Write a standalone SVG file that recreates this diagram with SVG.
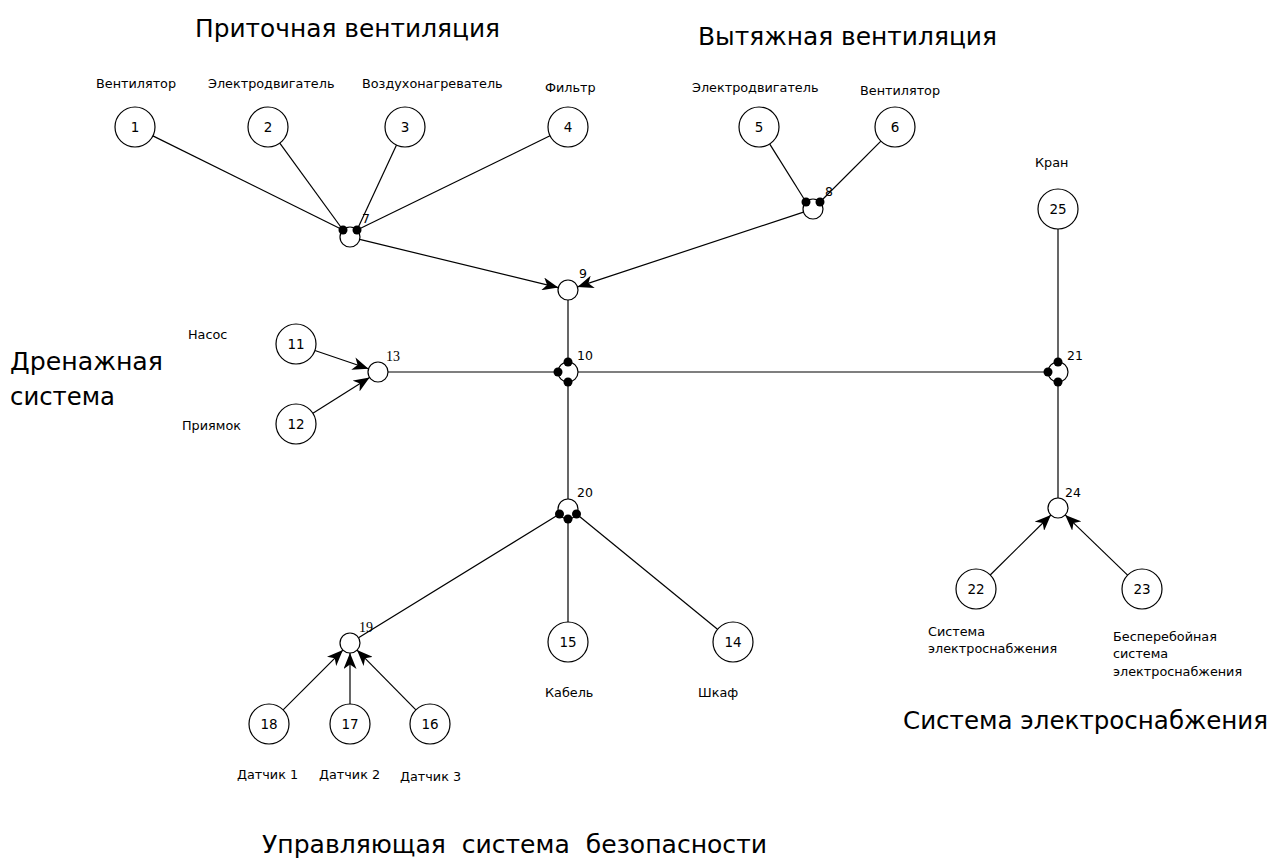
<svg xmlns="http://www.w3.org/2000/svg" width="1279" height="861" viewBox="0 0 1279 861">
<style>
.bg{fill:#fff}
.node circle{fill:#fff;stroke:#000;stroke-width:1.2}
.num{font-family:"DejaVu Sans",Verdana,sans-serif;font-size:13.5px;text-anchor:middle;fill:#000}
.lbl{font-family:"DejaVu Sans",Verdana,sans-serif;font-size:12.8px;fill:#000}
.tag{font-family:"DejaVu Sans",Verdana,sans-serif;font-size:12.5px;fill:#000}
.tags{font-family:"Liberation Serif",serif;font-size:14px;fill:#000}
.title{font-family:"DejaVu Sans",Verdana,sans-serif;font-size:24px;fill:#000}
.conn line{stroke:#000;stroke-width:1.2}
.dot{fill:#000}
</style>
<defs>
<marker id="arr" markerUnits="userSpaceOnUse" markerWidth="16" markerHeight="13" viewBox="0 0 16 13" refX="16" refY="6.5" orient="auto">
<path d="M0,0 L16,6.5 L0,13 L4.5,6.5 z" fill="#000"/>
</marker>
</defs>
<rect class="bg" x="0" y="0" width="1279" height="861"/>

<g id="connectors" class="conn">
<line x1="152.9" y1="135.9" x2="343" y2="230"/>
<line x1="279.8" y1="143.2" x2="343" y2="230"/>
<line x1="396.5" y1="145.1" x2="357" y2="230"/>
<line x1="550" y1="135.8" x2="357" y2="230"/>
<line x1="769.6" y1="143.9" x2="806" y2="202"/>
<line x1="880.9" y1="141.1" x2="820" y2="202"/>
<line x1="359.7" y1="239.4" x2="558.3" y2="287.6" marker-end="url(#arr)"/>
<line x1="803.5" y1="212.1" x2="577.5" y2="286.9" marker-end="url(#arr)"/>
<line x1="568" y1="300" x2="568" y2="362"/>
<line x1="388" y1="372" x2="558" y2="372"/>
<line x1="578" y1="372" x2="1048" y2="372"/>
<line x1="1058" y1="229" x2="1058" y2="362"/>
<line x1="1058" y1="382" x2="1058" y2="498"/>
<line x1="568" y1="382" x2="568" y2="499"/>
<line x1="314.9" y1="350.5" x2="368.5" y2="368.8" marker-end="url(#arr)"/>
<line x1="312.9" y1="413.3" x2="369.6" y2="377.4" marker-end="url(#arr)"/>
<line x1="559.5" y1="514" x2="358.5" y2="637.8"/>
<line x1="568" y1="519" x2="568" y2="622"/>
<line x1="576.5" y1="514" x2="717.5" y2="629.3"/>
<line x1="990.2" y1="575" x2="1050.9" y2="515" marker-end="url(#arr)"/>
<line x1="1127.6" y1="575.1" x2="1065.2" y2="514.9" marker-end="url(#arr)"/>
<line x1="283.1" y1="709.9" x2="342.9" y2="650.1" marker-end="url(#arr)"/>
<line x1="350" y1="704" x2="350" y2="653" marker-end="url(#arr)"/>
<line x1="415.9" y1="709.8" x2="357" y2="650.1" marker-end="url(#arr)"/>
</g>

<g id="n1" class="node"><circle cx="135" cy="127" r="20"/><text class="num" x="135" y="132">1</text><text class="lbl" x="96" y="88">Вентилятор</text></g>
<g id="n2" class="node"><circle cx="268" cy="127" r="20"/><text class="num" x="268" y="132">2</text><text class="lbl" x="208" y="88">Электродвигатель</text></g>
<g id="n3" class="node"><circle cx="405" cy="127" r="20"/><text class="num" x="405" y="132">3</text><text class="lbl" x="362" y="88">Воздухонагреватель</text></g>
<g id="n4" class="node"><circle cx="568" cy="127" r="20"/><text class="num" x="568" y="132">4</text><text class="lbl" x="545" y="92">Фильтр</text></g>
<g id="n5" class="node"><circle cx="759" cy="127" r="20"/><text class="num" x="759" y="132">5</text><text class="lbl" x="692" y="92">Электродвигатель</text></g>
<g id="n6" class="node"><circle cx="895" cy="127" r="20"/><text class="num" x="895" y="132">6</text><text class="lbl" x="860" y="95">Вентилятор</text></g>
<g id="n25" class="node"><circle cx="1058" cy="209" r="20"/><text class="num" x="1058" y="214">25</text><text class="lbl" x="1035" y="167">Кран</text></g>
<g id="n11" class="node"><circle cx="296" cy="344" r="20"/><text class="num" x="296" y="349">11</text><text class="lbl" x="188" y="339">Насос</text></g>
<g id="n12" class="node"><circle cx="296" cy="424" r="20"/><text class="num" x="296" y="429">12</text><text class="lbl" x="182" y="430">Приямок</text></g>
<g id="n22" class="node"><circle cx="976" cy="589" r="20"/><text class="num" x="976" y="594">22</text><text class="lbl" x="928" y="636">Система</text><text class="lbl" x="928" y="653">электроснабжения</text></g>
<g id="n23" class="node"><circle cx="1142" cy="589" r="20"/><text class="num" x="1142" y="594">23</text><text class="lbl" x="1113" y="641">Бесперебойная</text><text class="lbl" x="1113" y="658">система</text><text class="lbl" x="1113" y="676">электроснабжения</text></g>
<g id="n15" class="node"><circle cx="568" cy="642" r="20"/><text class="num" x="568" y="647">15</text><text class="lbl" x="545" y="697">Кабель</text></g>
<g id="n14" class="node"><circle cx="733" cy="642" r="20"/><text class="num" x="733" y="647">14</text><text class="lbl" x="698" y="697">Шкаф</text></g>
<g id="n18" class="node"><circle cx="269" cy="724" r="20"/><text class="num" x="269" y="729">18</text><text class="lbl" x="237" y="779">Датчик 1</text></g>
<g id="n17" class="node"><circle cx="350" cy="724" r="20"/><text class="num" x="350" y="729">17</text><text class="lbl" x="319" y="779">Датчик 2</text></g>
<g id="n16" class="node"><circle cx="430" cy="724" r="20"/><text class="num" x="430" y="729">16</text><text class="lbl" x="400" y="781">Датчик 3</text></g>

<g id="n7" class="node"><circle cx="350" cy="237" r="10"/><text class="tag" x="362" y="223">7</text></g>
<g id="n8" class="node"><circle cx="813" cy="209" r="10"/><text class="tag" x="825" y="196">8</text></g>
<g id="n9" class="node"><circle cx="568" cy="290" r="10"/><text class="tag" x="579" y="278">9</text></g>
<g id="n10" class="node"><circle cx="568" cy="372" r="10"/><text class="tag" x="577" y="360">10</text></g>
<g id="n13" class="node"><circle cx="378" cy="372" r="10"/><text class="tags" x="386" y="361">13</text></g>
<g id="n21" class="node"><circle cx="1058" cy="372" r="10"/><text class="tag" x="1067" y="360">21</text></g>
<g id="n20" class="node"><circle cx="568" cy="509" r="10"/><text class="tag" x="577" y="497">20</text></g>
<g id="n24" class="node"><circle cx="1058" cy="508" r="10"/><text class="tag" x="1065" y="497">24</text></g>
<g id="n19" class="node"><circle cx="350" cy="643" r="10"/><text class="tags" x="359" y="632">19</text></g>

<g id="junction-dots">
<circle class="dot" cx="343" cy="230" r="4.5"/>
<circle class="dot" cx="357" cy="230" r="4.5"/>
<circle class="dot" cx="806" cy="202" r="4.5"/>
<circle class="dot" cx="820" cy="202" r="4.5"/>
<circle class="dot" cx="568" cy="362" r="4.5"/>
<circle class="dot" cx="558" cy="372" r="4.5"/>
<circle class="dot" cx="568" cy="382" r="4.5"/>
<circle class="dot" cx="1058" cy="362" r="4.5"/>
<circle class="dot" cx="1048" cy="372" r="4.5"/>
<circle class="dot" cx="1058" cy="382" r="4.5"/>
<circle class="dot" cx="559.5" cy="514" r="4.5"/>
<circle class="dot" cx="568" cy="519" r="4.5"/>
<circle class="dot" cx="576.5" cy="514" r="4.5"/>
</g>

<g id="titles">
<text class="title" x="195" y="37" textLength="305" lengthAdjust="spacingAndGlyphs">Приточная вентиляция</text>
<text class="title" x="698" y="45" textLength="299" lengthAdjust="spacingAndGlyphs">Вытяжная вентиляция</text>
<text class="title" x="10" y="370" textLength="153" lengthAdjust="spacingAndGlyphs">Дренажная</text>
<text class="title" x="10" y="405" textLength="105" lengthAdjust="spacingAndGlyphs">система</text>
<text class="title" x="903" y="729" textLength="365" lengthAdjust="spacingAndGlyphs">Система электроснабжения</text>
<text class="title" x="262" y="853" textLength="505" lengthAdjust="spacingAndGlyphs" xml:space="preserve">Управляющая  система  безопасности</text>
</g>
</svg>
